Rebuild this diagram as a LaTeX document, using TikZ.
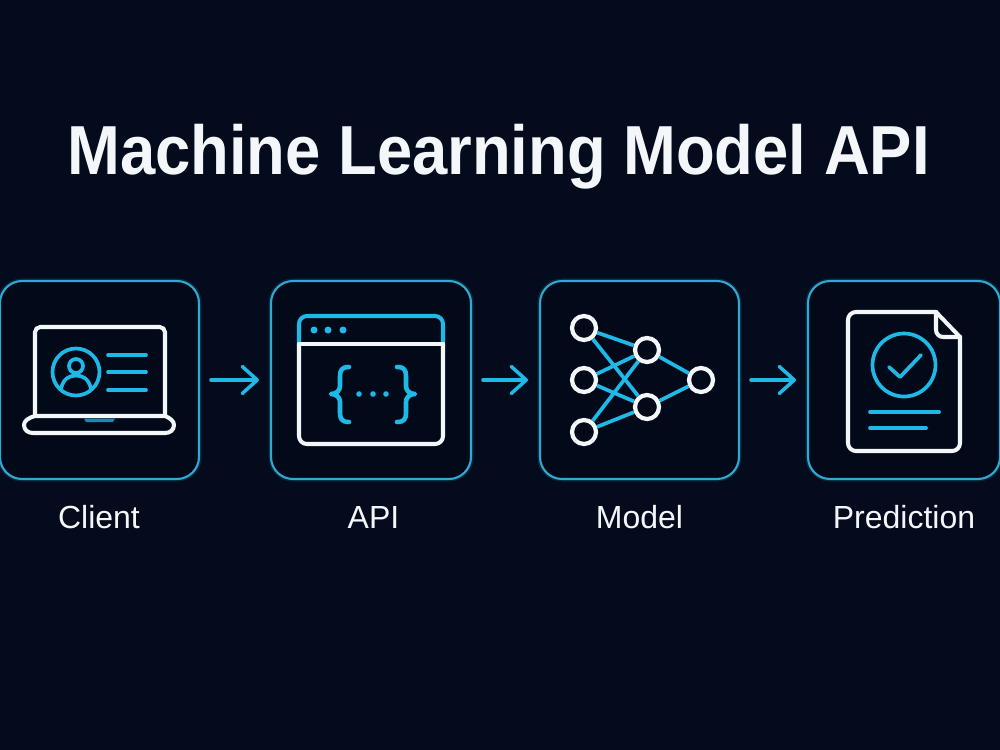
\documentclass[tikz,border=0pt]{standalone}
\usepackage{fontspec}
\setmainfont{Liberation Sans}
\newfontfamily\titlefont[FakeStretch=0.913]{Liberation Sans}
\usetikzlibrary{arrows.meta}
\definecolor{bgnavy}{HTML}{030B1C}
\definecolor{boxnavy}{HTML}{020A1A}
\definecolor{boxcyan}{HTML}{2FA9D2}
\definecolor{iconcyan}{HTML}{1FB9E8}
\definecolor{iconwhite}{HTML}{F4F7FA}
\tikzset{
  stagebox/.style={rounded corners=12.5pt, fill=boxnavy, draw=boxcyan, line width=1.2pt,
    preaction={draw=boxcyan!15!bgnavy, line width=3pt},
    minimum height=3.96cm, inner sep=0pt, outer sep=0pt},
  stagelabel/.style={text=iconwhite, font=\fontsize{18.2}{22}\selectfont, inner sep=0pt, anchor=base},
  flowarrow/.style={-{Straight Barb[length=0.3cm, width=0.54cm, round]}, color=iconcyan,
    line width=2pt, line cap=round, shorten >=0.24cm, shorten <=0.24cm},
  whiteline/.style={draw=iconwhite, line width=2.3pt, line cap=round, line join=round},
  cyanline/.style={draw=iconcyan, line width=2.1pt, line cap=round, line join=round},
  neuron/.style={circle, draw=iconwhite, line width=2.4pt, fill=boxnavy,
    minimum size=0.48cm, inner sep=0pt, outer sep=0pt},
  synapse/.style={cyanline, line cap=butt, shorten >=1.2pt, shorten <=1.2pt},
}
\begin{document}
\begin{tikzpicture}[x=0.02cm, y=-0.02cm]

  % ══ BACKGROUND ═══════════════════════════════════════════════
  \fill[bgnavy] (0,0) rectangle (1000,750);
  \useasboundingbox (0,0) rectangle (1000,750);

  % ══ TITLE ════════════════════════════════════════════════════
  \node[text=iconwhite, font=\fontsize{39.5}{46}\selectfont\titlefont\bfseries, inner sep=0pt, anchor=base] (title) at (498.5,174)
    {Machine Learning Model API};

  % ══ MAIN NODES ═══════════════════════════════════════════════
  \node[stagebox, minimum width=3.98cm] (client) at (99.5,380) {};
  \node[stagebox, minimum width=4.00cm] (api) at (371,380) {};
  \node[stagebox, minimum width=3.98cm] (model) at (639.5,380) {};
  \node[stagebox, minimum width=3.84cm] (prediction) at (904,380) {};

  % ══ LABELS ═══════════════════════════════════════════════════
  \node[stagelabel] (clientlabel) at (99,528) {Client};
  \node[stagelabel] (apilabel) at (373.5,528) {API};
  \node[stagelabel] (modellabel) at (639.5,528) {Model};
  \node[stagelabel] (predictionlabel) at (904,528) {Prediction};

  % ══ ARROWS ═══════════════════════════════════════════════════
  \draw[flowarrow] (client.east) -- (api.west);
  \draw[flowarrow] (api.east) -- (model.west);
  \draw[flowarrow] (model.east) -- (prediction.west);

  % ══ ICON: laptop with user card ══════════════════════════════
  \draw[whiteline, rounded corners=3pt] (35,416) -- (35,327) -- (165,327) -- (165,416);
  \draw[whiteline] (35,416) -- (165,416) .. controls (170,418) and (174,421) .. (174,425)
    .. controls (174,430) and (170,433) .. (165,433) -- (33,433)
    .. controls (28,433) and (24,430) .. (24,425) .. controls (24,421) and (28,418) .. (35,416) -- cycle;
  \fill[iconcyan!75!black] (84,418.5) -- (115,418.5) -- (113,422) -- (86,422) -- cycle;
  \draw[cyanline] (76,372) circle (23.5);
  \draw[cyanline] (76,366) circle (7);
  \draw[cyanline] (61,389) .. controls (63,379) and (69,375.5) .. (76,375.5)
    .. controls (83,375.5) and (89,379) .. (91,389);
  \draw[cyanline] (108,355) -- (146,355);
  \draw[cyanline] (108,372) -- (146,372);
  \draw[cyanline] (108,390) -- (146,390);

  % ══ ICON: browser window with braces ═════════════════════════
  \draw[cyanline, line width=2.3pt, rounded corners=4.5pt] (299,344) -- (299,316) -- (443,316) -- (443,344);
  \draw[whiteline, rounded corners=4.5pt] (443,344) -- (443,444) -- (299,444) -- (299,344);
  \draw[whiteline] (299,344) -- (443,344);
  \fill[iconcyan] (314,330) circle (3.5);
  \fill[iconcyan] (328,330) circle (3.5);
  \fill[iconcyan] (343,330) circle (3.5);
  \draw[cyanline, line width=2.6pt] (349,367) .. controls (342,367) and (340,370) .. (340,376) -- (340,386)
    .. controls (340,391) and (336,394) .. (331,394) .. controls (336,394) and (340,397) .. (340,402)
    -- (340,413) .. controls (340,419) and (342,422) .. (349,422);
  \draw[cyanline, line width=2.6pt] (397,367) .. controls (404,367) and (406,370) .. (406,376) -- (406,386)
    .. controls (406,391) and (410,394) .. (415,394) .. controls (410,394) and (406,397) .. (406,402)
    -- (406,413) .. controls (406,419) and (404,422) .. (397,422);
  \fill[iconcyan] (359,394) circle (2.8);
  \fill[iconcyan] (373,394) circle (2.8);
  \fill[iconcyan] (386,394) circle (2.8);

  % ══ ICON: neural network ═════════════════════════════════════
  \node[neuron] (inone) at (584,328) {};
  \node[neuron] (intwo) at (584,380) {};
  \node[neuron] (inthree) at (584,432) {};
  \node[neuron] (hidone) at (647,350) {};
  \node[neuron] (hidtwo) at (647,407) {};
  \node[neuron] (outone) at (701,380) {};
  \foreach \a in {inone,intwo,inthree}
    \foreach \b in {hidone,hidtwo}
      \draw[synapse] (\a) -- (\b);
  \draw[synapse] (hidone) -- (outone);
  \draw[synapse] (hidtwo) -- (outone);

  % ══ ICON: document with check mark ═══════════════════════════
  \draw[whiteline, rounded corners=4.5pt] (936,312) -- (848,312) -- (848,451) -- (960,451) -- (960,337);
  \draw[whiteline] (936,312) -- (960,337);
  \draw[whiteline, rounded corners=4pt] (936,312) -- (936,337) -- (960,337);
  \draw[cyanline] (904,365) circle (31.5);
  \draw[cyanline] (889,367) -- (900,377) -- (921,355);
  \draw[cyanline] (870,412) -- (939,412);
  \draw[cyanline] (870,428) -- (926,428);

\end{tikzpicture}
\end{document}
